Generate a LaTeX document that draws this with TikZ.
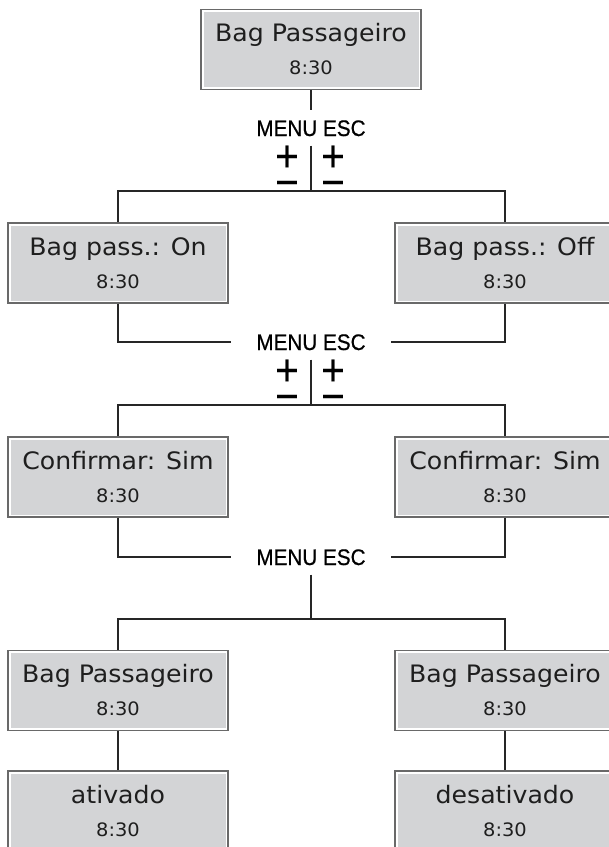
\documentclass[tikz,border=0pt]{standalone}
\usepackage{fontspec}
\newfontfamily\lcdfont[FakeStretch=1.05]{DejaVu Sans}
\newfontfamily\keyfont[FakeStretch=0.92, FakeBold=0.6]{Liberation Sans}
\usetikzlibrary{positioning}
\definecolor{lcdgray}{RGB}{211, 212, 214}
\definecolor{lcdframe}{RGB}{105, 105, 105}
\definecolor{lcdtext}{RGB}{30, 30, 30}
\newcommand{\lcdclock}{{\fontsize{18.5}{33}\selectfont 8:30}}

\begin{document}
\begin{tikzpicture}[
    x=1pt, y=-1pt,
    lcdbox/.style={rectangle, draw=lcdframe, line width=1.2pt, fill=white, minimum width=220pt, minimum height=80pt, inner sep=0pt, align=center, text=lcdtext, font=\lcdfont\fontsize{24}{33}\selectfont,
        path picture={\fill[lcdgray] ([shift={(2.5pt,-2.5pt)}]path picture bounding box.north west) rectangle ([shift={(-2.5pt,2.5pt)}]path picture bounding box.south east);}},
    keylabel/.style={font=\keyfont\fontsize{22.5}{22.5}\selectfont, text height=16pt, text depth=0pt, inner xsep=25pt, inner ysep=9.5pt},
    pmkeys/.style={font=\keyfont\fontsize{44}{26}\selectfont, align=center, anchor=north, inner sep=0pt},
    link/.style={draw=black!85, line width=1.2pt}
]
\useasboundingbox (0,0) rectangle (609,847);

% first menu level
\node[lcdbox] (start) at (311,49.5) {Bag Passageiro\\\lcdclock};
\node[keylabel] (menu1) at (311,128) {MENU ESC};
\node[pmkeys] (keys1l) at (287,145.5) {+\\−};
\node[pmkeys] (keys1r) at (333,145.5) {+\\−};
\coordinate (split1) at (311,191);

\node[lcdbox] (passon) at (118,263) {Bag pass.: On\\\lcdclock};
\node[lcdbox] (passoff) at (505,263) {Bag pass.: Off\\\lcdclock};

% confirmation
\node[keylabel] (menu2) at (311,342) {MENU ESC};
\node[pmkeys] (keys2l) at (287,359.5) {+\\−};
\node[pmkeys] (keys2r) at (333,359.5) {+\\−};
\coordinate (split2) at (311,405);

\node[lcdbox] (confl) at (118,477) {Confirmar: Sim\\\lcdclock};
\node[lcdbox] (confr) at (505,477) {Confirmar: Sim\\\lcdclock};

% result
\node[keylabel] (menu3) at (311,557) {MENU ESC};
\coordinate (split3) at (311,619);

\node[lcdbox] (bagl) at (118,690.5) {Bag Passageiro\\\lcdclock};
\node[lcdbox] (bagr) at (505,690.5) {Bag Passageiro\\\lcdclock};
\node[lcdbox] (ativ) at (118,811) {ativado\\\lcdclock};
\node[lcdbox] (desativ) at (505,811) {desativado\\\lcdclock};

\draw[link] (start.south) -- (menu1.north);
\draw[link] (menu1.south) -- (split1);
\draw[link] (passon.north) |- (split1) -| (passoff.north);
\draw[link] (passon.south) |- (menu2.west);
\draw[link] (passoff.south) |- (menu2.east);
\draw[link] (menu2.south) -- (split2);
\draw[link] (confl.north) |- (split2) -| (confr.north);
\draw[link] (confl.south) |- (menu3.west);
\draw[link] (confr.south) |- (menu3.east);
\draw[link] (menu3.south) -- (split3);
\draw[link] (bagl.north) |- (split3) -| (bagr.north);
\draw[link] (bagl.south) -- (ativ.north);
\draw[link] (bagr.south) -- (desativ.north);
\end{tikzpicture}
\end{document}
